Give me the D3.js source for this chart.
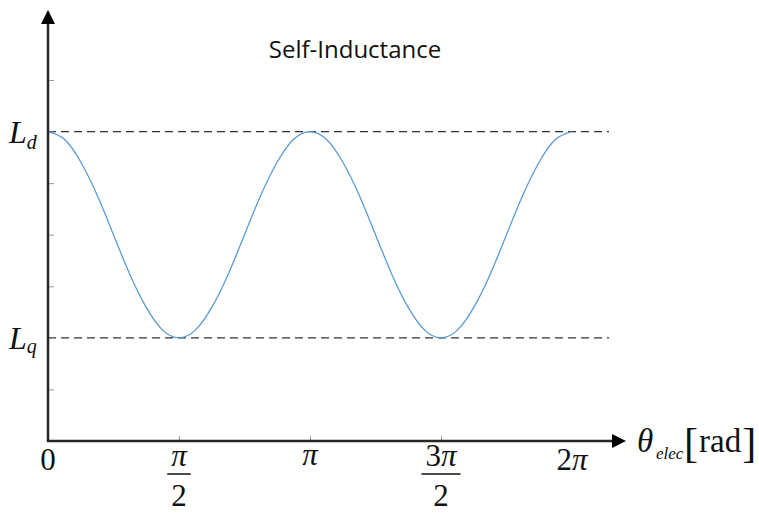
<!DOCTYPE html>
<html lang="en">
<head>
    <meta charset="UTF-8">
    <title>Self-Inductance</title>
    <style>
        body { margin: 0; background: #fff; }
        .serif { font-family: "Liberation Serif", "Times New Roman", serif; fill: #111; }
    </style>
</head>
<body>
<div id="chart"></div>
<script src="https://cdn.jsdelivr.net/npm/d3@7"></script>
<script>
    // electrical angle, in units of pi
    let theta = [0, 0.0625, 0.125, 0.1875, 0.25, 0.3125, 0.375, 0.4375, 0.5,
        0.5625, 0.625, 0.6875, 0.75, 0.8125, 0.875, 0.9375, 1,
        1.0625, 1.125, 1.1875, 1.25, 1.3125, 1.375, 1.4375, 1.5,
        1.5625, 1.625, 1.6875, 1.75, 1.8125, 1.875, 1.9375, 2]
    // self-inductance (axis units, Lq = 2, Ld = 6)
    let inductance = [6, 5.85, 5.41, 4.77, 4, 3.23, 2.59, 2.15, 2,
        2.15, 2.59, 3.23, 4, 4.77, 5.41, 5.85, 6,
        5.85, 5.41, 4.77, 4, 3.23, 2.59, 2.15, 2,
        2.15, 2.59, 3.23, 4, 4.77, 5.41, 5.85, 6]

    let xTickVals = [0, 0.5, 1, 1.5, 2]
    let xTickNum = ['0', 'π', 'π', '3π', '2π']
    let xTickDen = [null, '2', null, '2', null]
    let xMinorTicks = [0.5, 1, 1.5]

    let yMinorTicks = [1, 2, 3, 4, 5, 6, 7]
    let levels = [6, 2]
    let levelSubs = ['d', 'q']

    let width = 759, height = 518
    let x = d3.scaleLinear().domain([0, 2]).range([48, 572])
    let y = d3.scaleLinear().domain([0, 7]).range([441, 80])

    let svg = d3.select('#chart').append('svg')
        .attr('width', width)
        .attr('height', height)

    // title
    svg.append('text')
        .attr('x', 355).attr('y', 58)
        .attr('text-anchor', 'middle')
        .style('font-family', '"Open Sans", sans-serif')
        .style('font-size', '24px')
        .style('fill', '#111')
        .text('Self-Inductance')

    // dashed Ld / Lq guides
    svg.selectAll('line.level')
        .data(levels)
        .enter().append('line')
        .attr('class', 'level')
        .attr('x1', x(0)).attr('x2', 609)
        .attr('y1', d => y(d)).attr('y2', d => y(d))
        .attr('stroke', '#333')
        .attr('stroke-width', 1.2)
        .attr('stroke-dasharray', '8,5')

    // y minor ticks
    let yAxis = svg.append('g')
        .attr('transform', `translate(${x(0)},0)`)
        .call(d3.axisRight(y).tickValues(yMinorTicks).tickSize(6).tickFormat(''))
    yAxis.select('.domain').remove()
    yAxis.selectAll('line').attr('stroke', '#999')

    // x minor ticks
    let xAxis = svg.append('g')
        .attr('transform', `translate(0,${y(0)})`)
        .call(d3.axisTop(x).tickValues(xMinorTicks).tickSize(5).tickFormat(''))
    xAxis.select('.domain').remove()
    xAxis.selectAll('line').attr('stroke', '#999')

    // curve
    let line = d3.line()
        .x((d, i) => x(theta[i]))
        .y(d => y(d))
        .curve(d3.curveNatural)
    svg.append('path')
        .datum(inductance)
        .attr('d', line)
        .attr('fill', 'none')
        .attr('stroke', '#5B9BD5')
        .attr('stroke-width', 1.3)

    // axes with arrows
    let axisColor = '#262626'
    svg.append('line')
        .attr('x1', x(0)).attr('x2', x(0))
        .attr('y1', y(0) + 1).attr('y2', 20)
        .attr('stroke', axisColor).attr('stroke-width', 2.5)
    svg.append('path')
        .attr('d', `M${x(0)},10 L${x(0) - 7},24 L${x(0) + 7},24 Z`)
        .attr('fill', '#000')
    svg.append('line')
        .attr('x1', x(0) - 1).attr('x2', 616)
        .attr('y1', y(0)).attr('y2', y(0))
        .attr('stroke', axisColor).attr('stroke-width', 2.5)
    svg.append('path')
        .attr('d', `M626,${y(0)} L612,${y(0) - 7} L612,${y(0) + 7} Z`)
        .attr('fill', '#000')

    // L labels
    levels.forEach((v, i) => {
        let L = svg.append('text')
            .attr('class', 'serif')
            .attr('x', 9).attr('y', y(v) + 11)
            .style('font-size', '32px').style('font-style', 'italic')
            .text('L')
        svg.append('text')
            .attr('class', 'serif')
            .attr('x', 9 + L.node().getComputedTextLength())
            .attr('y', y(v) + (levelSubs[i] === 'd' ? 17 : 15))
            .style('font-size', '20px').style('font-style', 'italic')
            .text(levelSubs[i])
    })

    // x tick labels
    xTickVals.forEach((v, i) => {
        let cx = x(v)
        let frac = xTickDen[i] !== null
        let num = svg.append('text')
            .attr('class', 'serif')
            .attr('x', cx).attr('y', frac ? 466 : (i === 2 ? 465 : 470))
            .attr('text-anchor', 'middle')
            .style('font-size', '31px')
        let m = xTickNum[i].match(/^(\d*)(π?)$/)
        if (m[1]) num.append('tspan').text(m[1])
        if (m[2]) num.append('tspan').style('font-style', 'italic').text(m[2])
        if (frac) {
            let w = num.node().getComputedTextLength() + 8
            svg.append('line')
                .attr('x1', cx - w / 2).attr('x2', cx + w / 2)
                .attr('y1', 474).attr('y2', 474)
                .attr('stroke', '#111').attr('stroke-width', 1.5)
            svg.append('text')
                .attr('class', 'serif')
                .attr('x', cx).attr('y', 506)
                .attr('text-anchor', 'middle')
                .style('font-size', '31px')
                .text(xTickDen[i])
        }
    })

    // x axis label
    svg.append('text').attr('class', 'serif')
        .attr('x', 637).attr('y', 452)
        .style('font-size', '33px').style('font-style', 'italic')
        .text('θ')
    svg.append('text').attr('class', 'serif')
        .attr('x', 656).attr('y', 459)
        .style('font-size', '17px').style('font-style', 'italic')
        .text('elec')
    let lb = svg.append('text').attr('class', 'serif')
        .attr('x', 684).attr('y', 457)
        .style('font-size', '42px')
        .text('[')
    let radX = 684 + lb.node().getComputedTextLength() + 1
    let rad = svg.append('text').attr('class', 'serif')
        .attr('x', radX).attr('y', 452)
        .style('font-size', '33px')
        .text('rad')
    svg.append('text').attr('class', 'serif')
        .attr('x', radX + rad.node().getComputedTextLength() + 1).attr('y', 457)
        .style('font-size', '42px')
        .text(']')
</script>
</body>
</html>
